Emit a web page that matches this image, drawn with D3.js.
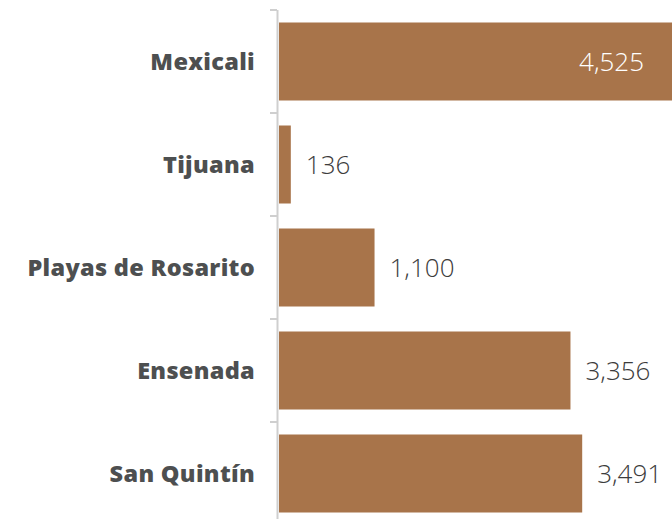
<!DOCTYPE html>
<html>
<head>
  <meta charset="utf-8">
  <style>
    body { margin: 0; background: #fff; }
    .cat { font-family: "Open Sans", sans-serif; font-size: 23.5px; font-weight: 800; letter-spacing: 0.3px; fill: #4d4f50; text-anchor: end; }
    .val { font-family: "Open Sans", sans-serif; font-size: 26px; font-weight: 300; }
  </style>
</head>
<body>
  <svg id="chart"></svg>
  <script src="https://d3js.org/d3.v7.min.js"></script>
  <script>
    const municipios = ["Mexicali", "Tijuana", "Playas de Rosarito", "Ensenada", "San Quintín"];
    const valores = [4525, 136, 1100, 3356, 3491];

    const width = 672, height = 519;
    const svg = d3.select("#chart").attr("width", width).attr("height", height);

    const y = d3.scaleBand().domain(municipios).range([10, 525]).padding(0);
    const x = d3.scaleLinear().domain([0, 4525]).range([279, 672]);
    const inset = 12.5;

    // axis line + ticks at band edges
    svg.append("line")
      .attr("x1", 277.5).attr("x2", 277.5)
      .attr("y1", 10).attr("y2", 525)
      .attr("stroke", "#cfcfcf").attr("stroke-width", 2);

    const edges = municipios.map(d => y(d)).concat([y.range()[1]]);
    svg.selectAll(".tick").data(edges).enter().append("line")
      .attr("x1", 270).attr("x2", 277)
      .attr("y1", d => d).attr("y2", d => d)
      .attr("stroke", "#cfcfcf").attr("stroke-width", 2);

    const data = municipios.map((m, i) => ({ name: m, value: valores[i] }));

    svg.selectAll(".bar").data(data).enter().append("rect")
      .attr("x", x(0))
      .attr("y", d => y(d.name) + inset)
      .attr("width", d => x(d.value) - x(0))
      .attr("height", y.bandwidth() - 2 * inset)
      .attr("fill", "#a8744a");

    svg.selectAll(".cat").data(data).enter().append("text")
      .attr("class", "cat")
      .attr("x", 255)
      .attr("y", d => y(d.name) + y.bandwidth() / 2)
      .attr("dy", "0.36em")
      .text(d => d.name);

    const fmt = d3.format(",");
    svg.selectAll(".val").data(data).enter().append("text")
      .attr("class", "val")
      .attr("x", d => d.value > 4000 ? x(d.value) - 28 : x(d.value) + 15)
      .attr("y", d => y(d.name) + y.bandwidth() / 2)
      .attr("dy", "0.36em")
      .attr("text-anchor", d => d.value > 4000 ? "end" : "start")
      .attr("fill", d => d.value > 4000 ? "#fff" : "#3c3c3c")
      .text(d => fmt(d.value));
  </script>
</body>
</html>
